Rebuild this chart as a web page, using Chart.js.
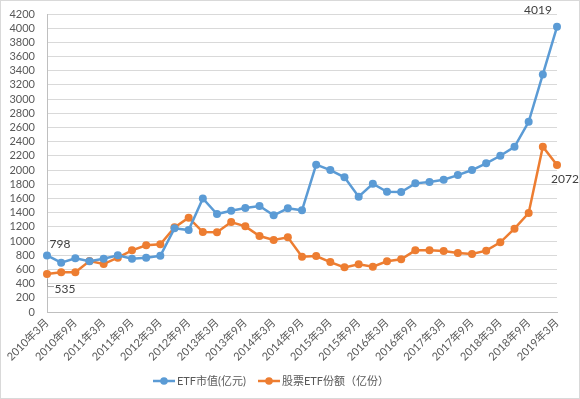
<!DOCTYPE html>
<html><head><meta charset="utf-8">
<script src="https://cdn.jsdelivr.net/npm/chart.js@4/dist/chart.umd.min.js"></script>
<style>html,body{margin:0;padding:0;background:#fff}#wrap{width:580px;height:399px;position:relative}</style>
</head><body><div id="wrap"><canvas id="c" width="580" height="399"></canvas></div>
<script>
const quarters = ["2010年3月","2010年6月","2010年9月","2010年12月","2011年3月","2011年6月","2011年9月","2011年12月",
"2012年3月","2012年6月","2012年9月","2012年12月","2013年3月","2013年6月","2013年9月","2013年12月",
"2014年3月","2014年6月","2014年9月","2014年12月","2015年3月","2015年6月","2015年9月","2015年12月",
"2016年3月","2016年6月","2016年9月","2016年12月","2017年3月","2017年6月","2017年9月","2017年12月",
"2018年3月","2018年6月","2018年9月","2018年12月","2019年3月"];
const etfValue = [798,695,757,714,751,799,751,766,793,1179,1155,1600,1381,1428,1465,1494,1362,1461,1433,2076,2001,1898,1625,1808,1695,1690,1813,1832,1864,1930,2001,2095,2202,2329,2681,3349,4019];
const stockEtfShares = [535,559,559,718,676,765,869,940,954,1193,1329,1127,1123,1268,1207,1071,1014,1052,779,789,704,629,672,638,715,742,869,869,859,831,817,864,982,1174,1395,2329,2072];
const seriesNames = ["ETF市值(亿元)","股票ETF份额（亿份）"];
const yTicks = {min:0,max:4200,step:200};
const labelFont = "'Lato','Noto Sans CJK SC',sans-serif";

const extras = {
  id:'extras',
  afterDraw(chart){
    const ctx = chart.ctx;
    const m0 = chart.getDatasetMeta(0).data, m1 = chart.getDatasetMeta(1).data;
    ctx.save();
    ctx.fillStyle = '#404040';
    ctx.font = "12px " + labelFont;
    ctx.textAlign='center'; ctx.textBaseline='middle';
    const n = etfValue.length-1;
    ctx.fillText(String(etfValue[0]), m0[0].x+13, m0[0].y-11);
    ctx.fillText(String(etfValue[n]), m0[n].x-19, m0[n].y-17);
    ctx.fillText(String(stockEtfShares[n]), m1[n].x+8, m1[n].y+14);
    const p = m1[0];
    ctx.fillText(String(stockEtfShares[0]), p.x+18, p.y+15);
    ctx.strokeStyle='#a6a6a6'; ctx.lineWidth=1;
    ctx.beginPath(); ctx.moveTo(p.x+0.5,p.y+5); ctx.lineTo(p.x+0.5,p.y+12.5); ctx.lineTo(p.x+7,p.y+12.5); ctx.stroke();
    const ly = 381;
    ctx.font = "11px " + labelFont;
    ctx.textAlign='left';
    const items = [{x:153,c:'#5B9BD5',t:seriesNames[0]},{x:258,c:'#ED7D31',t:seriesNames[1]}];
    items.forEach(it=>{
      ctx.strokeStyle=it.c; ctx.lineWidth=2.5;
      ctx.beginPath(); ctx.moveTo(it.x,ly); ctx.lineTo(it.x+22,ly); ctx.stroke();
      ctx.fillStyle=it.c; ctx.beginPath(); ctx.arc(it.x+11,ly,3.8,0,Math.PI*2); ctx.fill();
      ctx.fillStyle='#595959'; ctx.fillText(it.t,it.x+24,ly);
    });
    ctx.strokeStyle='#d9d9d9'; ctx.lineWidth=1;
    ctx.strokeRect(0.5,0.5,chart.width-1,chart.height-1);
    ctx.restore();
  }
};

new Chart(document.getElementById('c'),{
  type:'line',
  data:{labels:quarters,datasets:[
    {label:seriesNames[0],data:etfValue,borderColor:'#5B9BD5',backgroundColor:'#5B9BD5',borderWidth:2.5,pointRadius:4,pointBorderWidth:0,tension:0},
    {label:seriesNames[1],data:stockEtfShares,borderColor:'#ED7D31',backgroundColor:'#ED7D31',borderWidth:2.5,pointRadius:4,pointBorderWidth:0,tension:0}
  ]},
  options:{
    responsive:false,animation:false,devicePixelRatio:1,
    layout:{padding:{left:0,right:23,top:14,bottom:0}},
    plugins:{legend:{display:false},tooltip:{enabled:false}},
    scales:{
      x:{offset:false,
        grid:{display:false,drawTicks:false},
        border:{color:'#bfbfbf'},
        ticks:{autoSkip:false,minRotation:45,maxRotation:45,padding:4,color:'#595959',font:{size:11,family:labelFont},
          callback:function(v,i){return i%2===0?quarters[i]:'';}},
        afterFit(s){s.height=87;}
      },
      y:{min:yTicks.min,max:yTicks.max,
        grid:{color:'#d9d9d9',drawTicks:false},
        border:{color:'#bfbfbf'},
        ticks:{stepSize:yTicks.step,autoSkip:false,padding:12,color:'#595959',font:{size:11,family:labelFont},
          callback:function(v){return String(v);}},
        afterFit(s){s.width=47;s.paddingTop=0;s.paddingBottom=0;}
      }
    }
  },
  plugins:[extras]
});
</script></body></html>
